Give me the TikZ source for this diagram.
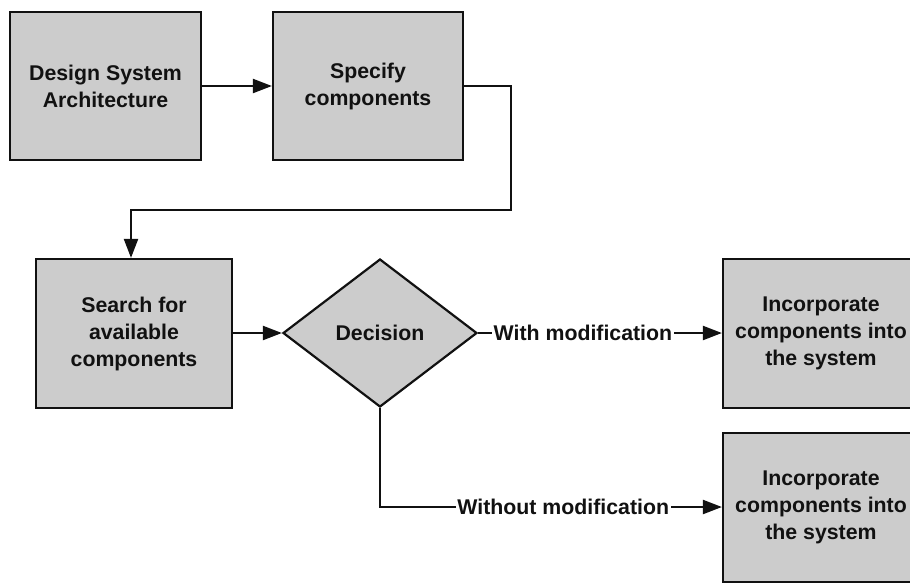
\documentclass[tikz,border=0pt]{standalone}
\usepackage{fontspec}
\setmainfont{Liberation Sans}
\usetikzlibrary{shapes.geometric,arrows.meta}
\definecolor{boxfill}{HTML}{CCCCCC}
\definecolor{ink}{HTML}{111111}
\begin{document}
\begin{tikzpicture}[x=1pt,y=-1pt,
  every node/.style={font=\bfseries\fontsize{21.3}{27}\selectfont, text=ink},
  procbox/.style={draw=ink, fill=boxfill, line width=2.2pt, align=center, inner sep=0pt},
  choice/.style={draw=ink, fill=boxfill, line width=2.2pt, diamond, aspect=1.31, inner sep=0pt,
                 minimum width=194pt, minimum height=148pt},
  flow/.style={draw=ink, line width=2.2pt, -{Triangle[length=19pt,width=14pt]}},
  edgelabel/.style={fill=white, inner sep=1.5pt}]
  \useasboundingbox (0,0) rectangle (910,582);
  \clip (0,0) rectangle (910,582);

  % process steps
  \node[procbox, minimum width=191pt, minimum height=148pt] (arch) at (105.5,86)
       {Design System\\Architecture};
  \node[procbox, minimum width=190pt, minimum height=148pt] (spec) at (368,86)
       {Specify\\components};
  \node[procbox, minimum width=196pt, minimum height=149pt] (search) at (134,333.5)
       {Search for\\available\\components};
  \node[choice] (dec) at (380,333) {Decision};
  \node[procbox, minimum width=196pt, minimum height=149pt] (incA) at (821,333.5)
       {Incorporate\\components into\\the system};
  \node[procbox, minimum width=196pt, minimum height=149pt] (incB) at (821,507.5)
       {Incorporate\\components into\\the system};

  % bends of the routed connectors
  \coordinate (r1) at (511,86);
  \coordinate (r2) at (511,210);
  \coordinate (r3) at (131,210);
  \coordinate (d1) at (380,507);

  % connectors
  \draw[flow] (arch.east) -- (spec.west);
  \draw[flow] (spec.east) -- (r1) -- (r2) -- (r3) -- (r3 |- search.north);
  \draw[flow] (search.east |- dec.west) -- (dec.west);
  \draw[flow] (dec.east) -- node[edgelabel, pos=0.43] {With modification} (incA.west |- dec.east);
  \draw[flow] (dec.south) -- (d1) -- node[edgelabel, pos=0.536] {Without modification} (incB.west |- d1);
\end{tikzpicture}
\end{document}
